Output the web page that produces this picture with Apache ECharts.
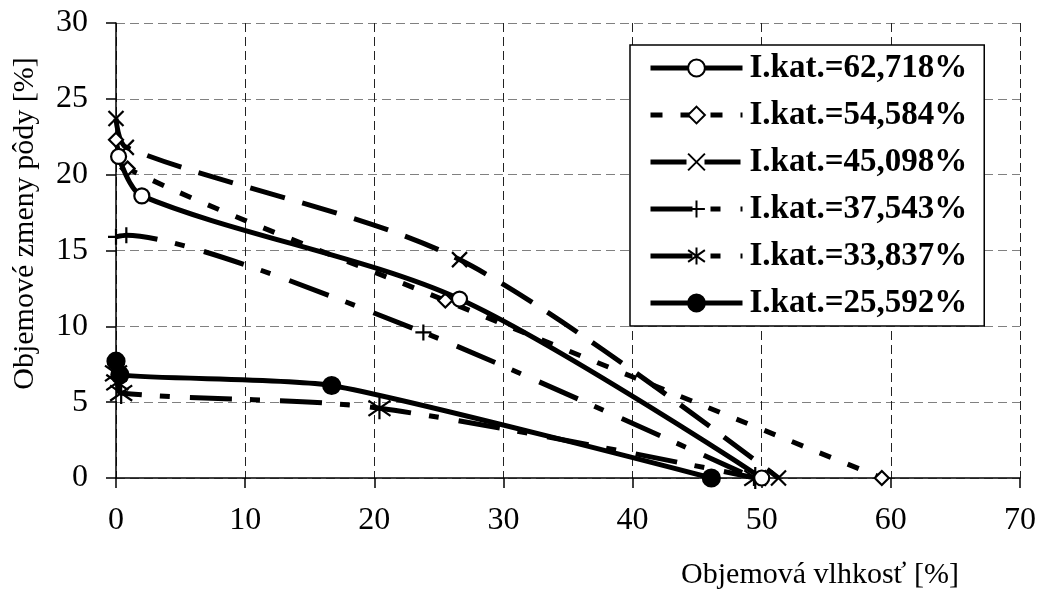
<!DOCTYPE html>
<html><head><meta charset="utf-8">
<script src="https://cdn.jsdelivr.net/npm/echarts@6/dist/echarts.min.js"></script>
<style>html,body{margin:0;padding:0;background:#fff}#c{width:1038px;height:590px}</style>
</head><body><div id="c"></div><script>
// Data
const seriesNames = ['I.kat.=62,718%', 'I.kat.=54,584%', 'I.kat.=45,098%', 'I.kat.=37,543%', 'I.kat.=33,837%', 'I.kat.=25,592%'];
const x1 = [0.2, 2.0, 26.6, 50.0];        const y1 = [21.2, 18.6, 11.8, 0];
const x2 = [0, 0.9, 25.5, 59.3];          const y2 = [22.3, 20.4, 11.7, 0];
const x3 = [0, 0.8, 26.6, 51.3];          const y3 = [23.7, 21.8, 14.4, 0];
const x4 = [0, 0.8, 23.8, 49.4];          const y4 = [15.9, 16.0, 9.6, 0];
const x5 = [0, 0.1, 0.4, 20.4, 49.5];     const y5 = [6.9, 6.3, 5.6, 4.6, 0];
const x6 = [0, 0.3, 16.7, 46.1];          const y6 = [7.7, 6.8, 6.1, 0];
const xTicks = [0, 10, 20, 30, 40, 50, 60, 70];
const yTicks = [0, 5, 10, 15, 20, 25, 30];
const xTitle = 'Objemová vlhkosť [%]';
const yTitle = 'Objemové zmeny pôdy [%]';

const FONT = 'Liberation Serif';
const X_PATH = 'path://M0,0L10,10M0,10L10,0';
const PLUS_PATH = 'path://M5,0L5,10M0,5L10,5';
const STAR_PATH = 'path://M0,1.5L10,8.5M0,8.5L10,1.5M5,0L5,10';

function pairs(xs, ys) { return xs.map((x, i) => [x, ys[i]]); }

const styles = [
  { sym: 'circle', size: 15, fill: '#fff', dash: 'solid', sm: 0.3 },
  { sym: 'diamond', size: 14, fill: '#fff', dash: [12, 18], sm: 0.3 },
  { sym: X_PATH, size: 15, fill: 'none', dash: [36, 18], sm: 0.3 },
  { sym: PLUS_PATH, size: 16, fill: 'none', dash: [42, 18, 10, 20], sm: 0.2 },
  { sym: STAR_PATH, size: 22, fill: 'none', dash: [42, 18, 10, 20], sm: 0.3 },
  { sym: 'circle', size: 17, fill: '#000', dash: 'solid', sm: 0.2 }
];
const data = [pairs(x1, y1), pairs(x2, y2), pairs(x3, y3), pairs(x4, y4), pairs(x5, y5), pairs(x6, y6)];

const series = seriesNames.map((name, i) => ({
  name: name,
  type: 'line',
  data: data[i],
  smooth: styles[i].sm,
  symbol: styles[i].sym,
  symbolSize: styles[i].size,
  showSymbol: true,
  lineStyle: { color: '#000', width: 5, type: styles[i].dash },
  itemStyle: { color: styles[i].fill, borderColor: '#000', borderWidth: 2.2 },
  emphasis: { disabled: true },
  z: 10 - i
}));

const chart = echarts.init(document.getElementById('c'), null, { renderer: 'canvas' });
chart.setOption({
  animation: false,
  backgroundColor: '#fff',
  grid: { left: 116, right: 18, top: 23, bottom: 112, containLabel: false, outerBoundsMode: 'none' },
  xAxis: {
    type: 'value', min: xTicks[0], max: xTicks[xTicks.length - 1], interval: 10,
    name: xTitle, nameLocation: 'middle', nameGap: 82,
    nameTextStyle: { fontFamily: FONT, fontSize: 30, color: '#000', padding: [0, 0, 0, 504] },
    axisLine: { show: true, onZero: false, lineStyle: { color: '#000', width: 1.5 } },
    axisTick: { show: true, inside: false, length: 10, lineStyle: { color: '#000', width: 1.5 } },
    axisLabel: { margin: 27, fontFamily: FONT, fontSize: 32, color: '#000' },
    splitLine: { show: true, lineStyle: { color: '#222', width: 1, type: [9, 5] } }
  },
  yAxis: {
    type: 'value', min: yTicks[0], max: yTicks[yTicks.length - 1], interval: 5,
    name: yTitle, nameLocation: 'middle', nameGap: 76, nameRotate: 90,
    nameTextStyle: { fontFamily: FONT, fontSize: 30, color: '#000', padding: [0, 0, 0, 54] },
    axisLine: { show: true, onZero: false, lineStyle: { color: '#000', width: 1.5 } },
    axisTick: { show: true, inside: false, length: 10, lineStyle: { color: '#000', width: 1.5 } },
    axisLabel: { margin: 28, fontFamily: FONT, fontSize: 32, color: '#000' },
    splitLine: { show: true, lineStyle: { color: '#808080', width: 1, type: [9, 5] } }
  },
  legend: {
    show: true, orient: 'vertical', left: 630, top: 45,
    padding: [5, 17, 5, 18], itemWidth: 92, itemHeight: 21, itemGap: 11,
    backgroundColor: '#fff', borderColor: '#000', borderWidth: 1.5, borderRadius: 0,
    lineStyle: { width: 5 },
    textStyle: { fontFamily: FONT, fontWeight: 'bold', fontSize: 33, color: '#000', lineHeight: 36, padding: [0, 0, 0, 2] },
    selectedMode: false,
    data: seriesNames
  },
  series: series
});
</script></body></html>
